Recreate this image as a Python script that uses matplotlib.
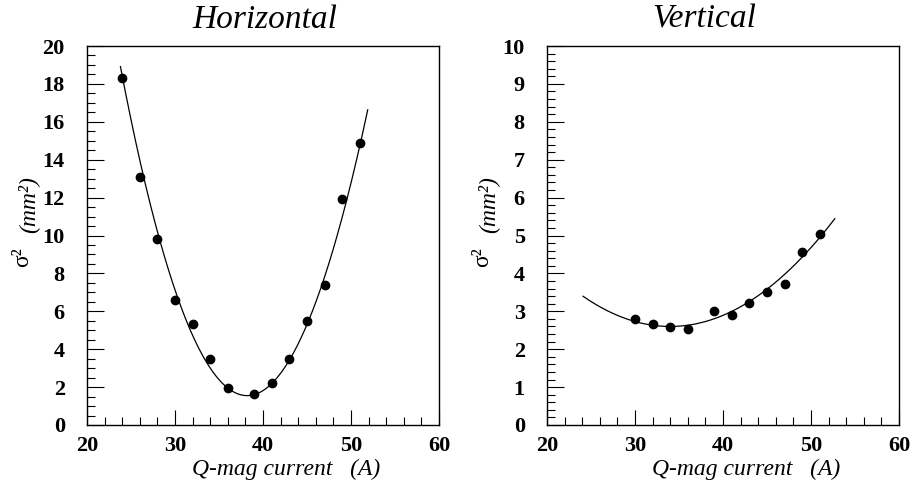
import numpy as np
import matplotlib
matplotlib.use("Agg")
import matplotlib.pyplot as plt
from matplotlib.ticker import MultipleLocator

# ---- data ----
h_current = [24, 26, 28, 30, 32, 34, 36, 39, 41, 43, 45, 47, 49, 51]
h_sigma2 = [18.3, 13.1, 9.8, 6.6, 5.35, 3.5, 1.95, 1.65, 2.2, 3.5, 5.5, 7.4, 11.9, 14.9]
v_current = [30, 32, 34, 36, 39, 41, 43, 45, 47, 49, 51]
v_sigma2 = [2.80, 2.66, 2.59, 2.52, 3.02, 2.89, 3.21, 3.50, 3.73, 4.56, 5.03]
# fit curves: y = c + a*(x-x0)^2 + b*(x-x0)^3  -> [a, b, x0, c]
h_fit = [0.082, -0.00012, 38.2, 1.55]
v_fit = [0.00813, 0.0, 34.0, 2.6]
h_fit_range = [23.8, 51.9]
v_fit_range = [24.1, 52.7]
titles = ["Horizontal", "Vertical"]
xlabel = "Q-mag current   (A)"

W, H = 912, 483
fig = plt.figure(figsize=(W / 100, H / 100), dpi=100)

def px_ax(l, r, t, b):
    return [l / W, 1 - b / H, (r - l) / W, (b - t) / H]

def fitfun(x, prm):
    a, b, x0, c = prm
    d = x - x0
    return c + a * d ** 2 + b * d ** 3

serif = "Liberation Serif"
panels = [
    dict(rect=px_ax(87, 439, 46, 425), x=h_current, y=h_sigma2, rng=h_fit_range, fit=h_fit,
         ylim=(0, 20), ymaj=2, ymin=0.5, title=titles[0]),
    dict(rect=px_ax(547, 899, 46, 425), x=v_current, y=v_sigma2, rng=v_fit_range, fit=v_fit,
         ylim=(0, 10), ymaj=1, ymin=0.2, title=titles[1]),
]

for p in panels:
    ax = fig.add_axes(p["rect"])
    xs = np.asarray(p["x"], float)
    ys = np.asarray(p["y"], float)
    xf = np.linspace(p["rng"][0], p["rng"][1], 300)
    ax.plot(xf, fitfun(xf, p["fit"]), color="black", lw=0.9)
    ax.plot(xs, ys, "o", color="black", ms=6, mec="black")
    ax.set_xlim(20, 60)
    ax.set_ylim(*p["ylim"])
    ax.xaxis.set_major_locator(MultipleLocator(10))
    ax.xaxis.set_minor_locator(MultipleLocator(2))
    ax.yaxis.set_major_locator(MultipleLocator(p["ymaj"]))
    ax.yaxis.set_minor_locator(MultipleLocator(p["ymin"]))
    ax.tick_params(which="both", direction="in", top=False, right=False, width=0.8, color="black")
    ax.tick_params(axis="y", which="major", length=12, pad=16)
    ax.tick_params(axis="y", which="minor", length=5.8)
    ax.tick_params(axis="x", which="major", length=11, pad=8)
    ax.tick_params(axis="x", which="minor", length=5.6)
    for lab in ax.get_xticklabels() + ax.get_yticklabels():
        lab.set_fontfamily(serif)
        lab.set_fontweight("bold")
        lab.set_fontsize(16)
    for s in ax.spines.values():
        s.set_linewidth(1.0)
        s.set_color("black")
    bbox = ax.get_position()
    fig.text(bbox.x0 + 105 / W, 1 - 28 / H, p["title"], family=serif, style="italic",
             fontsize=24, ha="left", va="baseline")
    fig.text(bbox.x1 - 59 / W, 1 - 475 / H, xlabel, family=serif, style="italic",
             fontsize=17, ha="right", va="baseline")
    fig.text(bbox.x0 - 64 / W, 1 - 257 / H, "σ²", family=serif, fontsize=17,
             rotation=90, ha="center", va="center")
    fig.text(bbox.x0 - 59 / W, 1 - 205 / H, "(mm²)", family=serif, style="italic",
             fontsize=17, rotation=90, ha="center", va="center")

fig.savefig("out.png", dpi=100)
